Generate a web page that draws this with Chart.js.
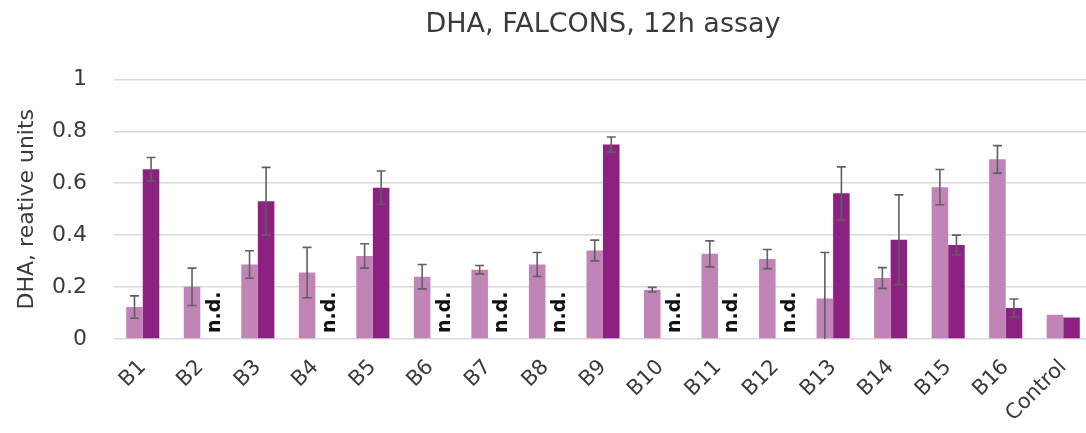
<!DOCTYPE html>
<html>
<head>
<meta charset="utf-8">
<title>DHA, FALCONS, 12h assay</title>
<script src="https://cdn.jsdelivr.net/npm/chart.js@4.4.1/dist/chart.umd.min.js"></script>
<style>
  html, body { margin: 0; padding: 0; background: #fff; overflow: hidden; }
  #wrap { width: 1092px; height: 433px; position: relative; }
</style>
</head>
<body>
<div id="wrap"><canvas id="graficoDHA"></canvas></div>
<script>
// muestras y valores de DHA (unidades relativas)
const categorias = ['B1', 'B2', 'B3', 'B4', 'B5', 'B6', 'B7', 'B8', 'B9', 'B10', 'B11', 'B12', 'B13', 'B14', 'B15', 'B16', 'Control'];
const serieClara = [0.123, 0.201, 0.287, 0.256, 0.320, 0.240, 0.267, 0.287, 0.341, 0.190, 0.328, 0.308, 0.156, 0.235, 0.585, 0.692, 0.093];
const errorClara = [0.043, 0.072, 0.053, 0.097, 0.047, 0.047, 0.016, 0.046, 0.040, 0.009, 0.050, 0.037, 0.177, 0.040, 0.068, 0.053, 0];
const serieOscura = [0.654, null, 0.531, null, 0.583, null, null, null, 0.749, null, null, null, 0.561, 0.382, 0.362, 0.119, 0.083];
const errorOscura = [0.045, 0, 0.130, 0, 0.064, 0, 0, 0, 0.029, 0, 0, 0, 0.102, 0.173, 0.038, 0.035, 0];
const ticksY = [0, 0.2, 0.4, 0.6, 0.8, 1];
const textoND = 'n.d.';

const fuente = "'DejaVu Sans', sans-serif";
const colorTexto = '#3a3a3a';

// barras de error (media +/- error), recortadas al area del grafico
const barrasError = {
    id: 'barrasError',
    afterDatasetsDraw(chart) {
        const ctx = chart.ctx;
        const y = chart.scales.y;
        const area = chart.chartArea;
        ctx.save();
        ctx.beginPath();
        ctx.rect(area.left, area.top - 10, area.right - area.left, area.bottom - area.top + 10);
        ctx.clip();
        ctx.strokeStyle = '#606060';
        ctx.lineWidth = 1.6;
        chart.data.datasets.forEach((ds, i) => {
            const meta = chart.getDatasetMeta(i);
            meta.data.forEach((bar, j) => {
                const v = ds.data[j];
                const e = ds.errores[j];
                if (v == null || !e) return;
                const yArriba = y.getPixelForValue(v + e);
                const yAbajo = y.getPixelForValue(v - e);
                ctx.beginPath();
                ctx.moveTo(bar.x, yArriba); ctx.lineTo(bar.x, yAbajo);
                ctx.moveTo(bar.x - 4.5, yArriba); ctx.lineTo(bar.x + 4.5, yArriba);
                ctx.moveTo(bar.x - 4.5, yAbajo); ctx.lineTo(bar.x + 4.5, yAbajo);
                ctx.stroke();
            });
        });
        ctx.restore();
    }
};

// "n.d." donde la serie oscura no tiene dato
const etiquetasND = {
    id: 'etiquetasND',
    afterDatasetsDraw(chart) {
        const ctx = chart.ctx;
        const x = chart.scales.x;
        const base = chart.scales.y.getPixelForValue(0);
        const meta = chart.getDatasetMeta(1);
        const desplaz = meta.data[0].x - x.getPixelForValue(0);
        ctx.save();
        ctx.font = "bold 19px " + fuente;
        ctx.fillStyle = '#111';
        ctx.textAlign = 'left';
        ctx.textBaseline = 'middle';
        serieOscura.forEach((v, j) => {
            if (v != null) return;
            ctx.save();
            ctx.translate(x.getPixelForValue(j) + desplaz + 6, base - 6);
            ctx.rotate(-Math.PI / 2);
            ctx.fillText(textoND, 0, 0);
            ctx.restore();
        });
        ctx.restore();
    }
};

const ctx = document.getElementById('graficoDHA').getContext('2d');
new Chart(ctx, {
    type: 'bar',
    data: {
        labels: categorias,
        datasets: [{
            label: 'Serie 1',
            data: serieClara,
            errores: errorClara,
            backgroundColor: '#c084b6',
            borderWidth: 0
        }, {
            label: 'Serie 2',
            data: serieOscura,
            errores: errorOscura,
            backgroundColor: '#8d2182',
            borderWidth: 0
        }]
    },
    plugins: [barrasError, etiquetasND],
    options: {
        responsive: true,
        maintainAspectRatio: false,
        animation: false,
        layout: { padding: 0 },
        datasets: {
            bar: { barPercentage: 1, categoryPercentage: 0.575 }
        },
        plugins: {
            legend: { display: false },
            tooltip: { enabled: false },
            title: {
                display: true,
                fullSize: false,
                text: 'DHA, FALCONS, 12h assay',
                color: colorTexto,
                font: { family: fuente, size: 27, weight: 'normal' },
                padding: { top: 9, bottom: 38 }
            }
        },
        scales: {
            x: {
                grid: { display: false },
                border: { display: false },
                ticks: {
                    color: colorTexto,
                    font: { family: fuente, size: 21 },
                    minRotation: 45,
                    maxRotation: 45,
                    padding: 8
                },
                afterFit(scale) { scale.height = 94; }
            },
            y: {
                min: 0,
                max: 1,
                afterBuildTicks(scale) {
                    scale.ticks = ticksY.map(v => ({ value: v }));
                },
                // marcas invisibles para separar los numeros del area
                grid: { color: '#d9d9d9', lineWidth: 1.5, drawTicks: true, tickLength: 24, tickColor: 'rgba(0,0,0,0)' },
                border: { display: false },
                ticks: {
                    color: colorTexto,
                    font: { family: fuente, size: 22 },
                    padding: 3,
                    callback: v => String(v)
                },
                title: {
                    display: true,
                    text: 'DHA, reative units',
                    color: colorTexto,
                    font: { family: fuente, size: 22 },
                    padding: { top: 14, bottom: 0 }
                },
                afterFit(scale) { scale.width = 114; }
            }
        }
    }
});
</script>
</body>
</html>
